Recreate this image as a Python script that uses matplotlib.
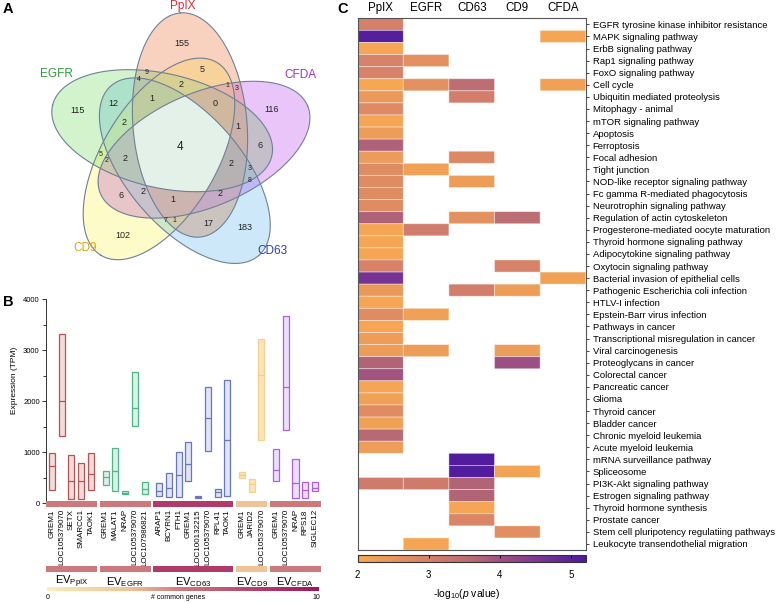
import numpy as np
import matplotlib
matplotlib.use('Agg')
import matplotlib.pyplot as plt
from matplotlib.colors import LinearSegmentedColormap, to_rgb, to_rgba
from matplotlib.patches import Rectangle
import matplotlib.transforms as mtransforms

plt.rcParams['font.family'] = ['Liberation Sans', 'DejaVu Sans']
plt.rcParams['mathtext.fontset'] = 'custom'
plt.rcParams['mathtext.rm'] = 'Liberation Sans'
plt.rcParams['mathtext.it'] = 'Liberation Sans:italic'
plt.rcParams['mathtext.bf'] = 'Liberation Sans:bold'

# ------------------------------------------------------------------ data
# Panel A: Venn
venn_sets = ['PpIX', 'EGFR', 'CD9', 'CD63', 'CFDA']
venn_counts = [155, 5, 9, 4, 2, 1, 3, 115, 12, 1, 0, 116, 2, 1, 4, 6, 5, 2, 2, 2,
               3, 8, 6, 2, 1, 2, 7, 1, 17, 183, 102]

# Panel B: expression ranges (TPM)
ppix_genes = ['GREM1', 'LOC105379070', 'SETX', 'SMARCC1', 'TAOK1']
ppix_min = [260, 1325, 80, 80, 260]
ppix_max = [980, 3310, 940, 785, 980]
ppix_med = [730, 2000, 430, 445, 580]

egfr_genes = ['GREM1', 'MALAT1', 'NRAP', 'LOC105379070', 'LOC107986821']
egfr_min = [360, 250, 180, 1510, 180]
egfr_max = [640, 1080, 240, 2565, 425]
egfr_med = [510, 630, 210, 1865, 280]

cd63_genes = ['ARAP1', 'BCYRN1', 'FTH1', 'GREM1', 'LOC100132215', 'LOC105379070', 'RPL41', 'TAOK1']
cd63_min = [140, 130, 130, 435, 105, 1025, 130, 145]
cd63_max = [390, 590, 1010, 1195, 140, 2270, 285, 2415]
cd63_med = [240, 305, 555, 765, 120, 1665, 215, 1235]

cd9_genes = ['GREM1', 'JARID2', 'LOC105379070']
cd9_min = [490, 230, 1245]
cd9_max = [605, 470, 3220]
cd9_med = [550, 375, 2505]

cfda_genes = ['GREM1', 'LOC105379070', 'NRAP', 'RPS18', 'SIGLEC12']
cfda_min = [430, 1430, 110, 110, 235]
cfda_max = [1055, 3675, 860, 425, 425]
cfda_med = [650, 2285, 405, 255, 295]

group_names = ['PpIX', 'EGFR', 'CD63', 'CD9', 'CFDA']
common_genes = [5, 5, 8, 3, 5]

# Panel C: pathway enrichment, -log10(p)
pathways = [
    'EGFR tyrosine kinase inhibitor resistance', 'MAPK signaling pathway', 'ErbB signaling pathway',
    'Rap1 signaling pathway', 'FoxO signaling pathway', 'Cell cycle', 'Ubiquitin mediated proteolysis',
    'Mitophagy - animal', 'mTOR signaling pathway', 'Apoptosis', 'Ferroptosis', 'Focal adhesion',
    'Tight junction', 'NOD-like receptor signaling pathway', 'Fc gamma R-mediated phagocytosis',
    'Neurotrophin signaling pathway', 'Regulation of actin cytoskeleton',
    'Progesterone-mediated oocyte maturation', 'Thyroid hormone signaling pathway',
    'Adipocytokine signaling pathway', 'Oxytocin signaling pathway', 'Bacterial invasion of epithelial cells',
    'Pathogenic Escherichia coli infection', 'HTLV-I infection', 'Epstein-Barr virus infection',
    'Pathways in cancer', 'Transcriptional misregulation in cancer', 'Viral carcinogenesis',
    'Proteoglycans in cancer', 'Colorectal cancer', 'Pancreatic cancer', 'Glioma', 'Thyroid cancer',
    'Bladder cancer', 'Chronic myeloid leukemia', 'Acute myeloid leukemia', 'mRNA surveillance pathway',
    'Spliceosome', 'PI3K-Akt signaling pathway', 'Estrogen signaling pathway', 'Thyroid hormone synthesis',
    'Prostate cancer', 'Stem cell pluripotency regulatiing pathways', 'Leukocyte transendothelial migration']
heat_cols = ['PpIX', 'EGFR', 'CD63', 'CD9', 'CFDA']
n = np.nan
ppix_vals = [3.0, 5.1, 2.1, 2.95, 2.95, 2.05, 2.4, 2.75, 2.1, 2.3, 3.75, 2.35, 2.7, 2.7, 2.7, 2.7,
             3.75, 2.1, 2.1, 2.1, 2.95, 4.6, 2.4, 2.1, 2.7, 2.1, 2.3, 2.3, 3.7, 3.95, 2.1, 2.2,
             2.7, 2.2, 3.6, 2.3, n, n, 3.15, n, n, n, n, n]
egfr_vals = [n, n, n, 2.6, n, 2.6, n, n, n, n, n, n, 2.2, n, n, n, n, 3.1, n, n, n, n, n, n,
             2.2, n, n, 2.3, n, n, n, n, n, n, n, n, n, n, 3.15, n, n, n, n, 2.1]
cd63_vals = [n, n, n, n, n, 3.5, 3.05, n, n, n, n, 2.8, n, 2.3, n, n, 2.6, n, n, n, n, n, 3.05, n,
             n, n, n, n, n, n, n, n, n, n, n, n, 5.15, 5.15, 3.7, 3.7, 2.1, 2.85, n, n]
cd9_vals = [n, n, n, n, n, n, n, n, n, n, n, n, n, n, n, n, 3.5, n, n, n, 2.95, n, 2.3, n,
            n, n, n, 2.3, 4.05, n, n, n, n, n, n, n, n, 2.15, n, n, n, n, 2.65, n]
cfda_vals = [n, 2.1, n, n, n, 2.2, n, n, n, n, n, n, n, n, n, n, n, n, n, n, n, 2.2, n, n,
             n, n, n, n, n, n, n, n, n, n, n, n, n, n, n, n, n, n, n, n]

# ------------------------------------------------------------------ figure
W, H = 778, 603
fig = plt.figure(figsize=(W / 100, H / 100), dpi=100)


def fx(px):
    return px / W


def fy(py):
    return 1 - py / H


# ================================================================ Panel A
axA = fig.add_axes([0, fy(290), fx(330), 290 / H])
axA.set_xlim(0, 330)
axA.set_ylim(290, 0)
axA.axis('off')

Cx, Cy = 180.0, 147.0
a_ax, b_ax = 112.5, 57.0
base_off = np.array([10.0, 22.0])
base_ang = 95.0
fill_cols = ['#fad3bf', '#d2f4cc', '#fdfbc8', '#cdeafa', '#e9c6fa']
edge_col = '#6f7f96'

ell_params = []
for k in range(5):
    r = np.deg2rad(72 * k)
    R = np.array([[np.cos(r), -np.sin(r)], [np.sin(r), np.cos(r)]])
    off = R @ base_off
    th = np.deg2rad(base_ang + 72 * k)
    ell_params.append((off, th))

res = 2
xs = (np.arange(330 * res) + 0.5) / res
ys = (np.arange(290 * res) + 0.5) / res
X, Y = np.meshgrid(xs, ys)
XM, YM = X - Cx, Cy - Y
masks = []
for off, th in ell_params:
    dx, dy = XM - off[0], YM - off[1]
    p = dx * np.cos(th) + dy * np.sin(th)
    q = -dx * np.sin(th) + dy * np.cos(th)
    masks.append((p / a_ax) ** 2 + (q / b_ax) ** 2 <= 1)
masks = np.array(masks)
cnt = masks.sum(axis=0)
prod = np.ones((290 * res, 330 * res, 3))
for k in range(5):
    c = np.array(to_rgb(fill_cols[k]))
    prod[masks[k]] *= c
soft = np.array([1.0, 1.0, 0.95, 0.8, 0.7, 0.3])[cnt]
img = np.ones((290 * res, 330 * res, 4))
img[..., :3] = 1 - (1 - prod) * soft[..., None]
img[cnt == 5, :3] = to_rgb('#e4f1ea')
img[cnt == 0, 3] = 0
axA.imshow(img, extent=(0, 330, 290, 0), origin='upper', interpolation='bilinear', zorder=1)

t = np.linspace(0, 2 * np.pi, 400)
for off, th in ell_params:
    px = off[0] + a_ax * np.cos(t) * np.cos(th) - b_ax * np.sin(t) * np.sin(th)
    py = off[1] + a_ax * np.cos(t) * np.sin(th) + b_ax * np.sin(t) * np.cos(th)
    axA.plot(Cx + px, Cy - py, color=edge_col, lw=0.8, zorder=2)

venn_pos = [(182, 43), (202, 69), (147, 72), (139, 79), (181, 84), (227, 85), (237, 88), (78, 110),
            (113, 103), (152, 98), (215, 103), (272, 109), (124, 122), (238, 126), (180, 147),
            (260, 145), (101, 154), (107, 161), (125, 158), (231, 164), (250, 169), (250, 180),
            (121, 196), (143, 191), (173, 199), (220, 194), (166, 221), (174, 220), (208, 223),
            (245, 228), (123, 236)]
small_idx = {2, 3, 5, 6, 16, 17, 20, 21, 26, 27}
for i, (v, (x, y)) in enumerate(zip(venn_counts, venn_pos)):
    fs = 5.0 if i in small_idx else (8.5 if i == 14 else 6.5)
    axA.text(x, y, str(v), ha='center', va='center', fontsize=fs, color='#222222', zorder=3)

venn_lab_pos = [(183, 6), (56, 74), (85, 248), (272, 251), (300, 75)]
venn_lab_cols = ['#e8262c', '#2a9d3a', '#d9a21a', '#2c3fae', '#9a35cf']
for name, (x, y), c in zip(venn_sets, venn_lab_pos, venn_lab_cols):
    axA.text(x, y, name, ha='center', va='center', fontsize=8.5, color=c, zorder=3)

fig.text(fx(3), fy(9), 'A', fontsize=10.5, fontweight='bold', va='center', ha='left')
fig.text(fx(3), fy(302), 'B', fontsize=10.5, fontweight='bold', va='center', ha='left')
fig.text(fx(337), fy(9), 'C', fontsize=10.5, fontweight='bold', va='center', ha='left')

# ================================================================ Panel B
common_cmap = LinearSegmentedColormap.from_list(
    'common', [(0, '#fdebbb'), (0.3, '#f0c396'), (0.5, '#cd787d'), (0.8, '#b13a6a'), (1.0, '#a0165a')])
groups = [
    (ppix_genes, ppix_min, ppix_max, ppix_med, '#c0504f'),
    (egfr_genes, egfr_min, egfr_max, egfr_med, '#4cb887'),
    (cd63_genes, cd63_min, cd63_max, cd63_med, '#6675c4'),
    (cd9_genes, cd9_min, cd9_max, cd9_med, '#f7c46c'),
    (cfda_genes, cfda_min, cfda_max, cfda_med, '#a95ff0'),
]
unit = 9.74
x_left = -6 / unit
axB = fig.add_axes([fx(46), fy(503.3), 276 / W, 204.3 / H])
axB.set_ylim(0, 4000)
axB.set_xlim(x_left, x_left + 276 / unit)

trans = mtransforms.blended_transform_factory(axB.transData, axB.transAxes)
pos_all, lab_all = [], []
p = 0.0
for gi, (genes, mn, mx, md, col) in enumerate(groups):
    gpos = []
    for j in range(len(genes)):
        gpos.append(p)
        p += 1
    p += 0.5
    gpos = np.array(gpos)
    fa = 0.45 if gi == 3 else 0.2
    ea = 0.7 if gi == 3 else 1.0
    heights = np.array(mx) - np.array(mn)
    axB.bar(gpos, heights, bottom=mn, width=0.62, facecolor=to_rgba(col, fa),
            edgecolor=to_rgba(col, ea), linewidth=0.9, zorder=2)
    axB.hlines(md, gpos - 0.31, gpos + 0.31, color=to_rgba(col, ea), lw=0.9, zorder=3)
    pos_all.extend(gpos)
    lab_all.extend(genes)
    bc = common_cmap(common_genes[gi] / 10)
    x0, x1 = gpos[0] - 0.62, gpos[-1] + 0.62
    axB.add_patch(Rectangle((x0, -0.0157), x1 - x0, 0.0294, transform=trans, color=bc,
                            clip_on=False, zorder=4, lw=0))
    axB.add_patch(Rectangle((x0, -0.337), x1 - x0, 0.030, transform=trans, color=bc,
                            clip_on=False, zorder=4, lw=0))
    axB.text((x0 + x1) / 2, -0.385, r'EV$_{\mathrm{' + group_names[gi] + '}}$', transform=trans,
             ha='center', va='center', fontsize=8)

axB.set_xticks(pos_all)
axB.set_xticklabels(lab_all, rotation=90, fontsize=5.8)
axB.tick_params(axis='x', length=0, pad=4.2)
axB.set_yticks([0, 1000, 2000, 3000, 4000])
axB.set_yticks([500, 1500, 2500, 3500], minor=True)
axB.tick_params(axis='y', labelsize=5.5, length=3, width=0.7, color='#333333', pad=1.5)
axB.tick_params(axis='y', which='minor', length=2, width=0.7, color='#333333')
for s in ['top', 'right', 'bottom']:
    axB.spines[s].set_visible(False)
axB.spines['left'].set_color('#333333')
axB.spines['left'].set_linewidth(0.7)
axB.spines['left'].set_bounds(0, 4000)
fig.text(fx(15), fy(380), 'Expression (TPM)', rotation=90, ha='center', va='center', fontsize=6)

axG = fig.add_axes([fx(47), fy(591), 272 / W, 4 / H])
axG.imshow(np.linspace(0, 1, 256)[None, :], aspect='auto', cmap=common_cmap)
axG.axis('off')
fig.text(fx(47.7), fy(597.5), '0', ha='center', va='center', fontsize=5)
fig.text(fx(316.7), fy(597.5), '10', ha='center', va='center', fontsize=5)
fig.text(fx(178), fy(597.5), '# common genes', ha='center', va='center', fontsize=5)

# ================================================================ Panel C
heat_cmap = LinearSegmentedColormap.from_list(
    'heat', [(0, '#f8a951'), (0.31, '#d5806a'), (0.5, '#b86a74'), (0.62, '#a05282'),
             (0.8, '#7a3592'), (1.0, '#4d1a9e')])
M = np.array([ppix_vals, egfr_vals, cd63_vals, cd9_vals, cfda_vals], dtype=float).T
Mm = np.ma.masked_invalid(M)
axC = fig.add_axes([fx(357.7), fy(550), 228 / W, 531.7 / H])
pc = axC.pcolor(np.arange(M.shape[1] + 1), np.arange(M.shape[0] + 1), Mm, cmap=heat_cmap,
                vmin=2, vmax=5.21, edgecolors=(1, 1, 1, 0.45), linewidth=0.6)
axC.set_xlim(0, M.shape[1])
axC.set_ylim(M.shape[0], 0)
axC.set_xticks(np.arange(M.shape[1]) + 0.5)
axC.set_xticklabels(heat_cols, fontsize=8.3)
axC.xaxis.tick_top()
axC.tick_params(axis='x', length=0, pad=3)
axC.set_yticks(np.arange(M.shape[0]) + 0.5)
axC.set_yticklabels(pathways, fontsize=6.8)
axC.yaxis.tick_right()
axC.tick_params(axis='y', length=2.5, width=0.7, color='#444444', pad=2.5)
for s in axC.spines.values():
    s.set_color('#555555')
    s.set_linewidth(0.8)

cax = fig.add_axes([fx(357.7), fy(561.7), 228 / W, 6.7 / H])
cb = fig.colorbar(pc, cax=cax, orientation='horizontal')
cb.set_ticks([2, 3, 4, 5])
cb.ax.tick_params(labelsize=7, top=True, bottom=False, labeltop=False, labelbottom=True,
                  direction='in', length=2, width=0.7, pad=6)
cb.outline.set_linewidth(0.8)
cb.outline.set_edgecolor('#333333')
fig.text(fx(467), fy(594), r'-log$_{10}$($p$ value)', ha='center', va='center', fontsize=7.5)

fig.savefig('out.png', dpi=100)
